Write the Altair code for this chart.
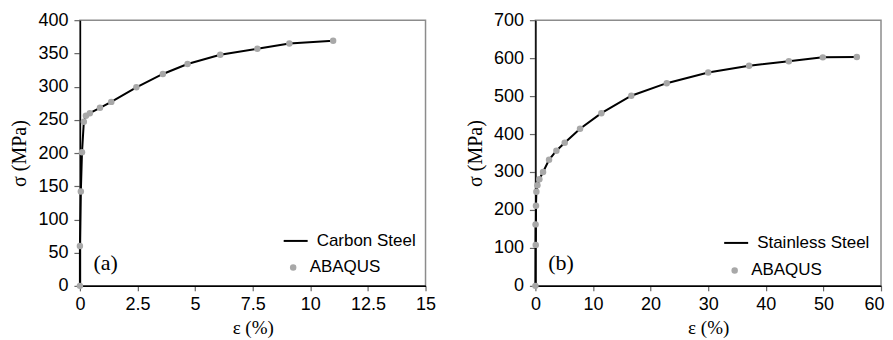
import altair as alt
import pandas as pd

# Panel (a) carbon steel
cs_strain = [0, 0, 0.04, 0.09, 0.17, 0.26, 0.43, 0.87, 1.36, 2.45, 3.6, 4.67, 6.09, 7.70, 9.09, 10.99]
cs_stress = [0, 60, 142, 201, 247, 256, 260, 268, 277, 299, 319, 334, 348, 357, 365, 369]

# Panel (b) stainless steel
ss_strain = [0, 0.06, 0.03, 0.1, 0.17, 0.35, 0.69, 1.33, 2.37, 3.64, 5.09, 7.75, 11.45, 16.65, 22.8, 30.0, 37.1, 44.0, 49.9, 55.8]
ss_stress = [0, 108, 162, 211, 248, 265, 281, 300, 332, 356, 377, 414, 455, 501, 534, 562, 580, 592, 602, 603]

a_ticks_x = [0, 2.5, 5, 7.5, 10, 12.5, 15]
a_ticks_y = [0, 50, 100, 150, 200, 250, 300, 350, 400]
b_ticks_x = [0, 10, 20, 30, 40, 50, 60]
b_ticks_y = [0, 100, 200, 300, 400, 500, 600, 700]

# panel tag anchors (data coords)
tag_a = {"text": ["(a)"], "e": [1.12], "s": [35]}
tag_b = {"text": ["(b)"], "e": [4.46], "s": [60]}

SANS = "Liberation Sans"
SERIF = "Liberation Serif"
GRAY = "#a8a8a8"
W, H = 346, 266


def panel(strain, stress, line_name, xmax, ymax, xt, yt, tag, leg_line, leg_pt, x_extra=None):
    line_df = pd.DataFrame({"e": strain, "s": stress, "series": line_name})
    pt_df = pd.DataFrame({"e": strain, "s": stress, "series2": "ABAQUS"})
    tag_df = pd.DataFrame(tag)
    xaxis_kw = dict(values=xt, labelExpr="'' + datum.value", labelOverlap=False,
                    labelFlush=False, title="ε (%)")
    if x_extra:
        xaxis_kw.update(x_extra)
    xenc = alt.X("e:Q", scale=alt.Scale(domain=[0, xmax], nice=False, zero=True),
                 axis=alt.Axis(**xaxis_kw))
    yenc = alt.Y("s:Q", scale=alt.Scale(domain=[0, ymax], nice=False),
                 axis=alt.Axis(values=yt, labelExpr="'' + datum.value", labelOverlap=False,
                               labelFlush=False, tickCount=len(yt), title="σ (MPa)"))
    line = alt.Chart(line_df).mark_line(color="black", strokeWidth=2).encode(
        x=xenc, y=yenc,
        color=alt.Color("series:N", scale=alt.Scale(domain=[line_name], range=["black"]),
                        legend=alt.Legend(orient="none", legendX=leg_line[0], legendY=leg_line[1],
                                          title=None, symbolType="stroke", symbolSize=576,
                                          symbolStrokeWidth=2, labelOffset=8, padding=0)),
    )
    pts = alt.Chart(pt_df).mark_point(filled=True, size=42, opacity=1).encode(
        x=xenc, y=yenc,
        color=alt.Color("series2:N", scale=alt.Scale(domain=["ABAQUS"], range=[GRAY]),
                        legend=alt.Legend(orient="none", legendX=leg_pt[0], legendY=leg_pt[1],
                                          title=None, symbolType="circle", symbolSize=42,
                                          symbolOpacity=1, labelOffset=8, padding=0)),
    )
    txt = alt.Chart(tag_df).mark_text(font=SERIF, fontSize=22, color="black").encode(
        x=xenc, y=yenc, text="text:N")
    return alt.layer(line, pts, txt).resolve_scale(color="independent").properties(width=W, height=H)


pa = panel(cs_strain, cs_stress, "Carbon Steel", 15, 400, a_ticks_x, a_ticks_y, tag_a,
           (203, 208), (205, 239))
pb = panel(ss_strain, ss_stress, "Stainless Steel", 60, 700, b_ticks_x, b_ticks_y, tag_b,
           (188, 210), (191, 242),
           x_extra={
               "labelAlign": {"condition": {"test": "datum.value == 60", "value": "right"},
                              "value": "center"},
               "labelOffset": {"condition": {"test": "datum.value == 60", "value": 3},
                               "value": 0},
           })

chart = alt.hconcat(pa, pb, spacing=110, bounds="flush").resolve_scale(
    color="independent", x="independent", y="independent"
).properties(padding={"left": 1, "top": 2, "right": 0, "bottom": 0}).configure_view(
    stroke="#8c8c8c", strokeWidth=1.5
).configure_axis(
    grid=False, domainColor="black", domainWidth=1.5, tickColor="#666666", tickWidth=1.2,
    labelFont=SANS, labelFontSize=18, labelColor="black", labelOverlap=False,
    titleFont=SERIF, titleFontSize=19, titleFontWeight="normal", titleColor="black",
).configure_axisY(tickSize=6, labelPadding=6, titlePadding=8, titleFontSize=20,
                  minExtent=42, maxExtent=42
).configure_axisX(tickSize=5, labelPadding=5, titlePadding=5
).configure_legend(labelFont=SANS, labelFontSize=17, labelColor="black")

chart.save("out.html", embed_options={"renderer": "svg", "actions": False})
